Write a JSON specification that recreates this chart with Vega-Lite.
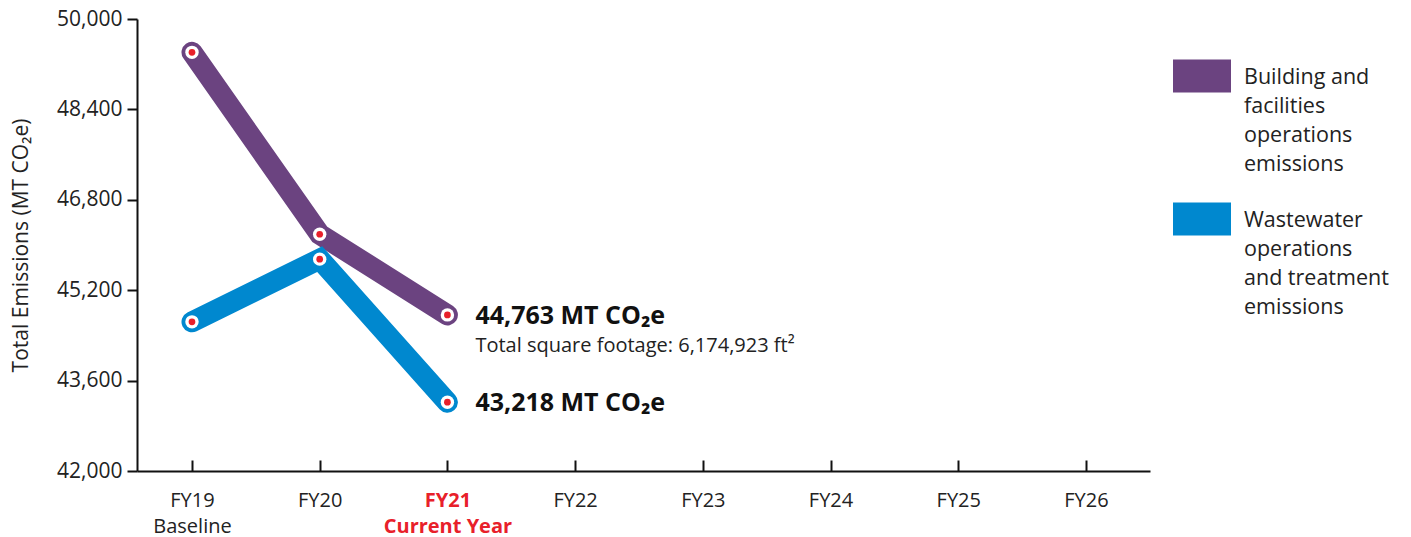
{
  "$schema": "https://vega.github.io/schema/vega-lite/v6.json",
  "width": 1013,
  "height": 452,
  "autosize": {"type": "none"},
  "padding": {"left": 137, "top": 19, "right": 261, "bottom": 66},
  "background": "white",
  "config": {
    "font": "Open Sans",
    "view": {"stroke": null}
  },
  "datasets": {
    "emissions": [
      {"series": "Building and facilities operations emissions", "year": "FY19", "value": 49410},
      {"series": "Building and facilities operations emissions", "year": "FY20", "value": 46190},
      {"series": "Building and facilities operations emissions", "year": "FY21", "value": 44763},
      {"series": "Wastewater operations and treatment emissions", "year": "FY19", "value": 44640},
      {"series": "Wastewater operations and treatment emissions", "year": "FY20", "value": 45750},
      {"series": "Wastewater operations and treatment emissions", "year": "FY21", "value": 43218}
    ],
    "notes": [
      {"year": "FY21", "value": 44763, "label": "44,763 MT CO₂e", "kind": "main"},
      {"year": "FY21", "value": 43218, "label": "43,218 MT CO₂e", "kind": "main"},
      {"year": "FY21", "value": 44763, "label": "Total square footage: 6,174,923 ft²", "kind": "sub"}
    ]
  },
  "encoding": {
    "x": {
      "field": "year",
      "type": "ordinal",
      "sort": null,
      "scale": {"type": "point", "domain": ["FY19","FY20","FY21","FY22","FY23","FY24","FY25","FY26"], "padding": 0.466, "align": 0.462},
      "axis": {
        "title": null,
        "labelAngle": 0,
        "domainColor": "#111111",
        "domainWidth": 2,
        "tickColor": "#111111",
        "tickWidth": 2,
        "tickSize": -11,
        "labelPadding": 30,
        "labelFontSize": 20,
        "labelColor": {"condition": {"test": "datum.value == 'FY21'", "value": "#e8202a"}, "value": "#222222"},
        "labelFontWeight": {"condition": {"test": "datum.value == 'FY21'", "value": "bold"}, "value": "normal"},
        "labelLineHeight": 26,
        "labelBaseline": "top",
        "labelExpr": "datum.value == 'FY19' ? ['FY19', 'Baseline'] : datum.value == 'FY21' ? ['FY21', 'Current Year'] : datum.value"
      }
    },
    "y": {
      "field": "value",
      "type": "quantitative",
      "scale": {"domain": [42000, 50000], "nice": false, "zero": false},
      "axis": {
        "title": "Total Emissions (MT CO₂e)",
        "titleFontSize": 21,
        "titleFontWeight": "normal",
        "titleColor": "#222222",
        "titlePadding": 25,
        "values": [42000, 43600, 45200, 46800, 48400, 50000],
        "format": ",d",
        "grid": false,
        "domainColor": "#111111",
        "domainWidth": 2,
        "tickColor": "#111111",
        "tickWidth": 2,
        "tickSize": 10,
        "labelPadding": 5,
        "labelFontSize": 21,
        "labelColor": "#222222"
      }
    }
  },
  "layer": [
    {
      "data": {"name": "emissions"},
      "mark": {"type": "line", "strokeWidth": 21, "strokeCap": "round", "strokeJoin": "miter"},
      "encoding": {
        "color": {
          "field": "series",
          "type": "nominal",
          "scale": {"domain": ["Building and facilities operations emissions", "Wastewater operations and treatment emissions"], "range": ["#6b4380", "#0088cf"]},
          "legend": {
            "title": null,
            "orient": "none",
            "legendX": 1036,
            "legendY": 28,
            "padding": 0,
            "symbolType": "M-1,-0.57H1V0.57H-1Z",
            "symbolSize": 3364,
            "symbolStrokeWidth": 0,
            "symbolOpacity": 1,
            "labelFontSize": 21.5,
            "labelColor": "#222222",
            "labelLimit": 0,
            "labelOffset": 13,
            "labelBaseline": "top",
            "rowPadding": 14,
            "labelExpr": "datum.label == 'Building and facilities operations emissions' ? ['Building and', 'facilities', 'operations', 'emissions'] : ['Wastewater', 'operations', 'and treatment', 'emissions']",
            "encode": {
              "symbols": {"update": {"fill": {"scale": "color", "field": "value"}, "fillOpacity": {"value": 1}}},
              "labels": {"update": {"lineHeight": {"value": 29}, "dy": {"value": -9}}}
            }
          }
        }
      }
    },
    {
      "data": {"name": "emissions"},
      "mark": {"type": "point", "filled": true, "fill": "white", "size": 180, "opacity": 1, "strokeWidth": 0}
    },
    {
      "data": {"name": "emissions"},
      "mark": {"type": "point", "filled": true, "fill": "#e8202a", "size": 45, "opacity": 1, "strokeWidth": 0}
    },
    {
      "data": {"name": "notes"},
      "transform": [{"filter": "datum.kind == 'main'"}],
      "mark": {"type": "text", "align": "left", "baseline": "middle", "dx": 28, "dy": 1, "fontSize": 25, "fontWeight": "bold", "color": "#111111"},
      "encoding": {"text": {"field": "label"}}
    },
    {
      "data": {"name": "notes"},
      "transform": [{"filter": "datum.kind == 'sub'"}],
      "mark": {"type": "text", "align": "left", "baseline": "middle", "dx": 28, "dy": 31, "fontSize": 20, "color": "#222222"},
      "encoding": {"text": {"field": "label"}}
    }
  ]
}
